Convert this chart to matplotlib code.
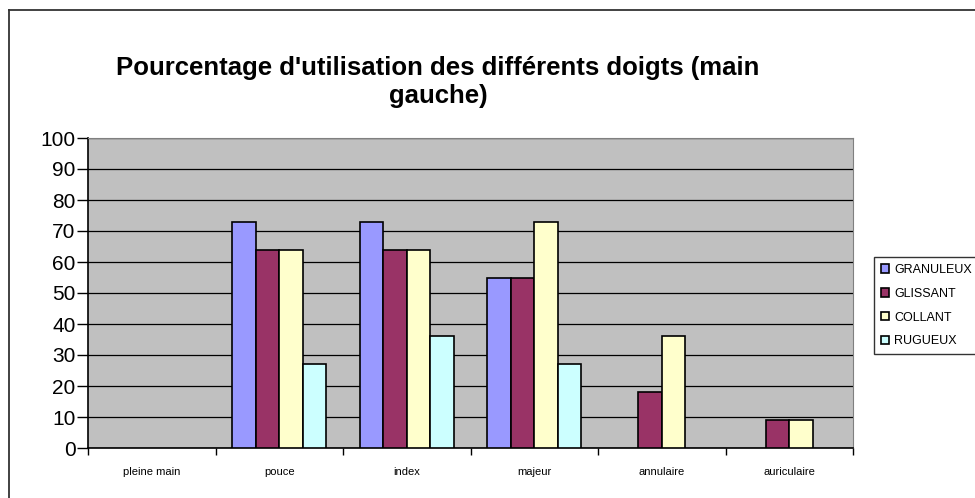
import numpy as np
import matplotlib
matplotlib.use("Agg")
import matplotlib.pyplot as plt
from matplotlib.lines import Line2D

plt.rcParams["font.family"] = ["Liberation Sans", "DejaVu Sans"]

# ── data ──────────────────────────────────────────────────────────────────────
categories = ["pleine main", "pouce", "index", "majeur", "annulaire", "auriculaire"]
granuleux  = [0, 73, 73, 55, 0, 0]
glissant   = [0, 64, 64, 55, 18, 9]
collant    = [0, 64, 64, 73, 36, 9]
rugueux    = [0, 27, 36, 27, 0, 0]

series = [("GRANULEUX", granuleux, "#9999FF"),
          ("GLISSANT",  glissant,  "#993366"),
          ("COLLANT",   collant,   "#FFFFCC"),
          ("RUGUEUX",   rugueux,   "#CCFFFF")]

W, H = 975, 498
fig = plt.figure(figsize=(W / 100, H / 100), dpi=100)

# chart frame (left and top edges only inside the image)
fig.add_artist(Line2D([8.5 / W, 8.5 / W], [0, 1 - 10 / H], color="#333333", lw=1.3,
                      transform=fig.transFigure))
fig.add_artist(Line2D([8.5 / W, 1], [1 - 10 / H, 1 - 10 / H], color="#333333", lw=1.3,
                      transform=fig.transFigure))

ax = fig.add_axes([88 / W, 50 / H, (853 - 88) / W, (448 - 138) / H])
ax.set_facecolor("#C0C0C0")

x = np.arange(len(categories))
bw = 0.185
for i, (name, vals, col) in enumerate(series):
    vals = np.asarray(vals, dtype=float)
    pos = x + (i - 1.5) * bw
    keep = vals > 0
    ax.bar(pos[keep], vals[keep], width=bw, color=col, edgecolor="black",
           linewidth=1.2, zorder=3)

ax.set_xlim(-0.5, len(categories) - 0.5)
ax.set_ylim(0, 100)
ax.set_yticks(np.arange(0, 101, 10))
ax.yaxis.grid(True, color="black", lw=0.9, zorder=1)
ax.set_axisbelow(True)

ax.tick_params(axis="y", direction="out", length=8, width=1, labelsize=15, pad=1)
ax.set_xticks(x)
ax.set_xticklabels(categories, fontsize=8)
ax.tick_params(axis="x", length=0, pad=14)
ax.set_xticks(np.arange(-0.5, len(categories), 1), minor=True)
ax.tick_params(axis="x", which="minor", direction="out", length=5, width=1)

for s in ("top", "right"):
    ax.spines[s].set_color("#808080")
for s in ("left", "bottom"):
    ax.spines[s].set_color("black")
    ax.spines[s].set_linewidth(1.2)

fig.text(438 / W, 1 - 82 / H,
         "Pourcentage d'utilisation des différents doigts (main\ngauche)",
         ha="center", va="center", fontsize=18.5, fontweight="bold",
         linespacing=1.2)

# legend
handles = [plt.Rectangle((0, 0), 1, 1, facecolor=c, edgecolor="black", lw=1.2)
           for _, _, c in series]
leg = fig.legend(handles, [n for n, _, _ in series], loc="upper left",
                 bbox_to_anchor=(874 / W, 1 - 257 / H), fontsize=9,
                 frameon=True, fancybox=False, edgecolor="black",
                 handlelength=0.65, handleheight=0.65, handletextpad=0.4,
                 labelspacing=0.95, borderpad=0.55, borderaxespad=0)
leg.get_frame().set_linewidth(1.0)

fig.savefig("out.png", dpi=100)
